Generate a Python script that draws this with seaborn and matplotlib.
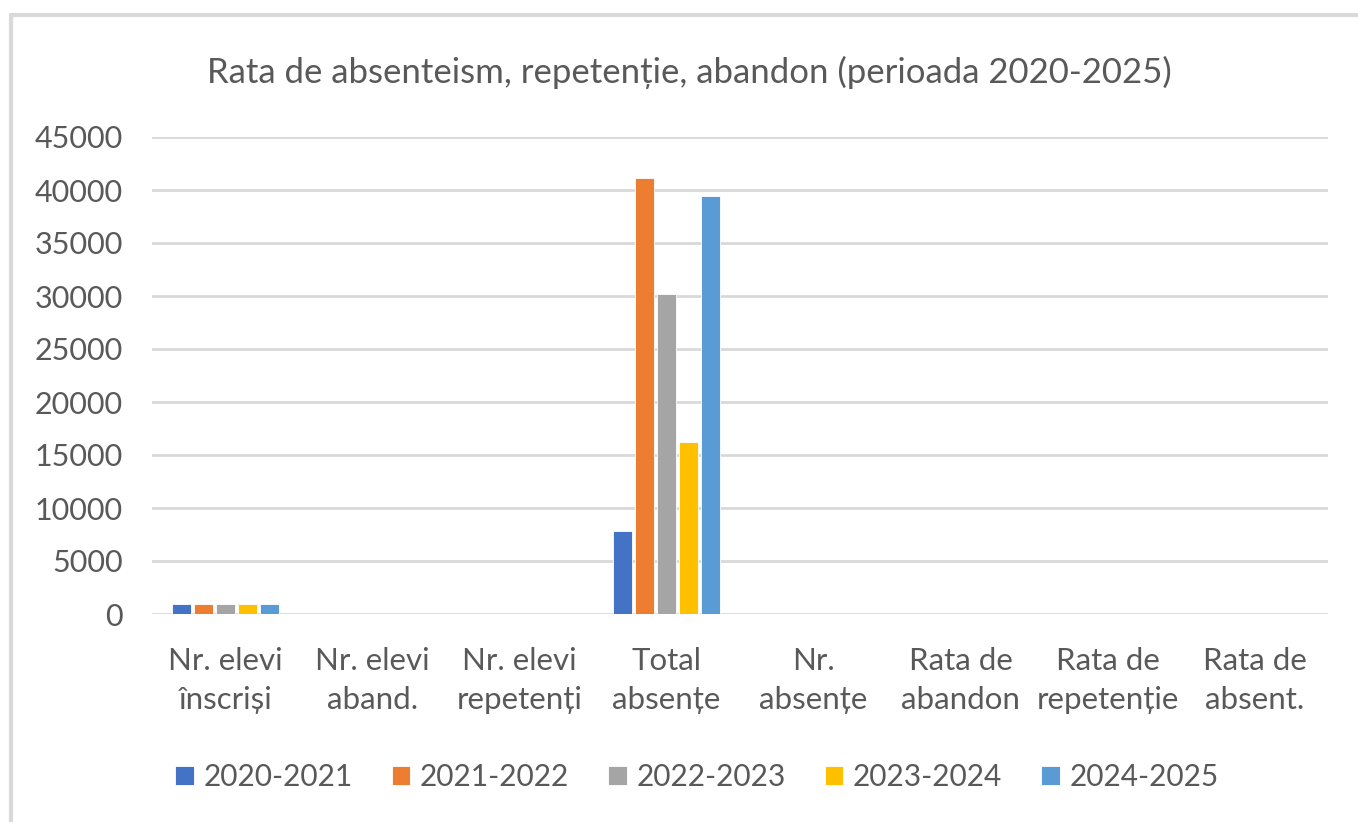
import pandas as pd
import matplotlib
matplotlib.use("Agg")
import matplotlib.pyplot as plt
import seaborn as sns
from matplotlib.lines import Line2D

# Data
categories = ["Nr. elevi\nînscriși", "Nr. elevi\naband.", "Nr. elevi\nrepetenți", "Total\nabsențe",
              "Nr.\nabsențe", "Rata de\nabandon", "Rata de\nrepetenție", "Rata de\nabsent."]
years = ["2020-2021", "2021-2022", "2022-2023", "2023-2024", "2024-2025"]
v_2020 = [950, 4, 6, 7800, 8, 0.4, 0.6, 8]
v_2021 = [960, 3, 5, 41100, 43, 0.3, 0.5, 43]
v_2022 = [950, 5, 7, 30200, 32, 0.5, 0.7, 32]
v_2023 = [940, 3, 4, 16200, 17, 0.3, 0.4, 17]
v_2024 = [930, 4, 5, 39400, 42, 0.4, 0.5, 42]
colors = ["#4472C4", "#ED7D31", "#A5A5A5", "#FFC000", "#5B9BD5"]

series = [v_2020, v_2021, v_2022, v_2023, v_2024]
df = pd.DataFrame([
    {"Categorie": c, "An": y, "Valoare": v}
    for y, vals in zip(years, series)
    for c, v in zip(categories, vals)
])

sns.set_style("white")
plt.rcParams['font.family'] = ['Lato', 'DejaVu Sans']
txt = "#595959"

fig = plt.figure(figsize=(13.58, 8.22), dpi=100)
ax = fig.add_axes([152 / 1358, 1 - 614 / 822, 1176 / 1358, 477 / 822])

sns.barplot(data=df, x="Categorie", y="Valoare", hue="An", palette=colors, saturation=1,
            width=0.75, gap=0.15, ax=ax, edgecolor="white", linewidth=0.6)

ax.set_ylim(0, 45000)
ax.set_yticks(range(0, 45001, 5000))
ax.set_xlim(-0.5, len(categories) - 0.5)
ax.yaxis.grid(True, color="#d9d9d9", linewidth=2)
ax.set_axisbelow(True)
for s in ax.spines.values():
    s.set_visible(False)
ax.set_xlabel("")
ax.set_ylabel("")
ax.tick_params(axis="y", labelsize=22, labelcolor=txt, length=0, pad=21)
ax.tick_params(axis="x", labelsize=22.5, labelcolor=txt, length=0, pad=24)
for lab in ax.get_xticklabels():
    lab.set_linespacing(1.45)

fig.text(689 / 1358, 1 - 72 / 822, "Rata de absenteism, repetenție, abandon (perioada 2020-2025)",
         ha="center", va="center", fontsize=25, color=txt)

handles, labels = ax.get_legend_handles_labels()
ax.legend_.remove()
fig.legend(handles, labels, loc="center", bbox_to_anchor=(697 / 1358, 1 - 777 / 822), ncol=5,
           frameon=False, fontsize=21.5, labelcolor=txt, handlelength=0.62, handleheight=0.6,
           handletextpad=0.33, columnspacing=1.3)

# chart frame (left and top edges)
fig.add_artist(Line2D([11 / 1358, 11 / 1358], [0, 1 - 15 / 822], color="#d9d9d9", linewidth=3,
                      transform=fig.transFigure))
fig.add_artist(Line2D([11 / 1358, 1], [1 - 15 / 822, 1 - 15 / 822], color="#d9d9d9", linewidth=3,
                      transform=fig.transFigure))

fig.savefig("out.png", dpi=100)
